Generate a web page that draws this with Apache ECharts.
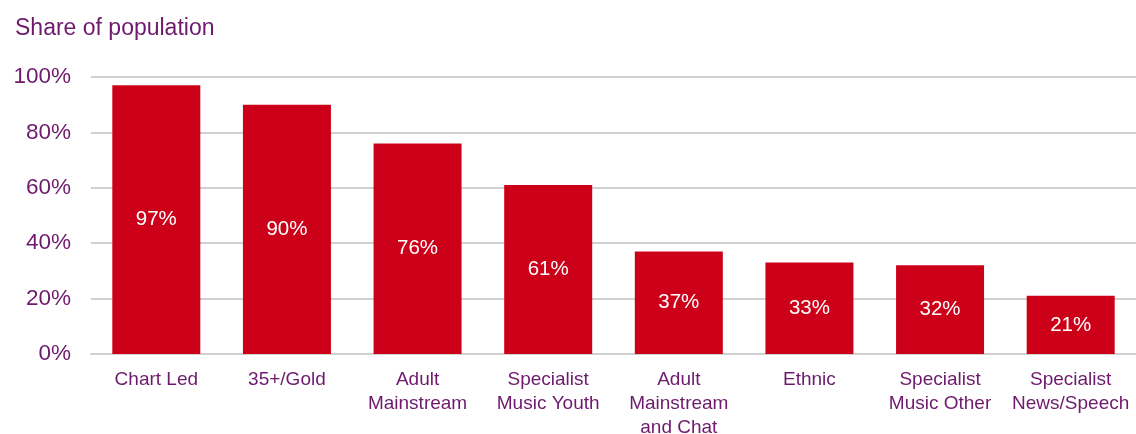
<!DOCTYPE html>
<html>
<head>
<meta charset="utf-8">
<script src="https://cdn.jsdelivr.net/npm/echarts@6/dist/echarts.min.js"></script>
<style>
  html, body { margin: 0; padding: 0; background: #fff; }
  #chart { width: 1136px; height: 434px; }
</style>
</head>
<body>
<div id="chart"></div>
<script>
const categories = ['Chart Led', '35+/Gold', 'Adult\nMainstream', 'Specialist\nMusic Youth',
  'Adult\nMainstream\nand Chat', 'Ethnic', 'Specialist\nMusic Other', 'Specialist\nNews/Speech'];
const shareValues = [97, 90, 76, 61, 37, 33, 32, 21];
const yTicks = { min: 0, max: 100, interval: 20 };

const purple = '#6d1a6d';
const font = 'Liberation Sans, Arial, sans-serif';

let chart = echarts.init(document.getElementById('chart'));
chart.setOption({
  animation: false,
  title: {
    text: 'Share of population',
    left: 10,
    top: 12,
    textStyle: { color: purple, fontSize: 23, fontWeight: 'normal', fontFamily: font }
  },
  grid: { left: 91, right: 0, top: 77, bottom: 80, outerBoundsMode: 'none', containLabel: false },
  xAxis: {
    type: 'category',
    data: categories,
    axisLine: { lineStyle: { color: '#d0d0d0', width: 2 } },
    axisTick: { show: false },
    axisLabel: {
      color: purple, fontSize: 19, fontFamily: font, lineHeight: 24,
      margin: 14, interval: 0
    }
  },
  yAxis: {
    type: 'value',
    min: yTicks.min,
    max: yTicks.max,
    interval: yTicks.interval,
    axisLabel: {
      formatter: '{value}%', color: purple, fontSize: 22.5, fontFamily: font, margin: 20
    },
    splitLine: { lineStyle: { color: '#d0d0d0', width: 2 } }
  },
  series: [{
    type: 'bar',
    data: shareValues,
    barWidth: 88,
    itemStyle: { color: '#cc0018' },
    label: {
      show: true,
      position: 'inside',
      formatter: '{c}%',
      color: '#fff',
      fontSize: 20.5,
      fontFamily: font
    }
  }]
});
</script>
</body>
</html>
